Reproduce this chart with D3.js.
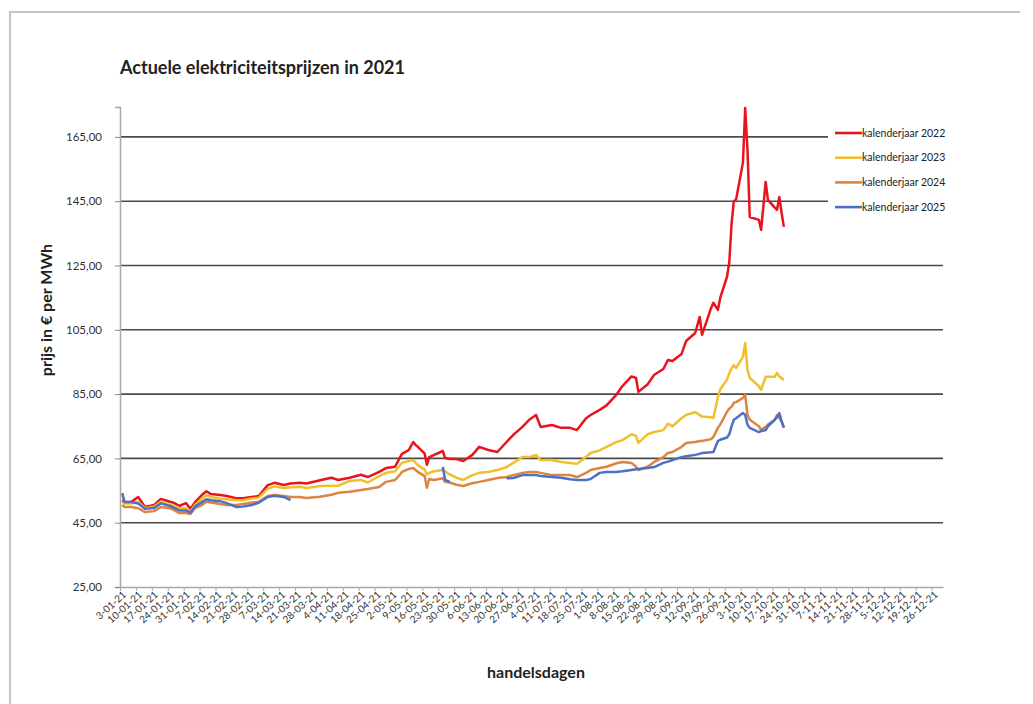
<!DOCTYPE html>
<html>
<head>
<meta charset="utf-8">
<script src="https://cdn.jsdelivr.net/npm/d3@7"></script>
<style>
  body { margin: 0; background: #fff; }
  svg text { font-family: Lato, "Open Sans", sans-serif; fill: #222; }
</style>
</head>
<body>
<script>
// handelsdagen en noteringen (EUR/MWh)
var dagen = ["04-01-21","05-01-21","08-01-21","11-01-21","14-01-21","18-01-21","21-01-21","25-01-21","27-01-21","29-01-21",
  "01-02-21","03-02-21","05-02-21","08-02-21","10-02-21","12-02-21","16-02-21","19-02-21","23-02-21","26-02-21",
  "02-03-21","05-03-21","09-03-21","12-03-21","16-03-21","19-03-21","23-03-21","26-03-21","01-04-21","06-04-21",
  "09-04-21","14-04-21","19-04-21","22-04-21","27-04-21","30-04-21","04-05-21","06-05-21","07-05-21","10-05-21",
  "12-05-21","13-05-21","14-05-21","17-05-21","18-05-21","19-05-21","21-05-21","25-05-21","26-05-21","28-05-21",
  "31-05-21","03-06-21","07-06-21","10-06-21","14-06-21","18-06-21","22-06-21","25-06-21","29-06-21","02-07-21",
  "05-07-21","07-07-21","12-07-21","16-07-21","20-07-21","23-07-21","27-07-21","29-07-21","02-08-21","05-08-21",
  "09-08-21","12-08-21","16-08-21","18-08-21","19-08-21","23-08-21","26-08-21","30-08-21","01-09-21","03-09-21",
  "07-09-21","09-09-21","13-09-21","15-09-21","16-09-21","20-09-21","21-09-21","23-09-21","24-09-21","27-09-21",
  "28-09-21","29-09-21","30-09-21","01-10-21","04-10-21","05-10-21","06-10-21","07-10-21","11-10-21","12-10-21",
  "14-10-21","15-10-21","18-10-21","19-10-21","20-10-21","21-10-21","22-10-21"];

var kal2022 = [52.0,51.4,51.5,53.0,49.9,50.5,52.4,51.5,51.1,50.2,
  51.1,49.3,51.4,53.6,54.8,53.9,53.6,53.3,52.6,52.6,
  53.0,53.3,56.7,57.4,56.7,57.2,57.4,57.2,58.2,59.0,
  58.3,59.0,59.9,59.2,60.8,62.0,62.4,65.1,66.4,67.6,
  70.1,69.2,68.6,66.5,63.0,65.4,66.0,67.3,65.1,64.8,
  64.8,64.2,66.1,68.6,67.6,67.0,70.1,72.3,74.8,77.0,
  78.5,74.8,75.4,74.5,74.5,73.8,77.5,78.5,80.1,81.5,
  84.5,87.5,90.5,90.0,85.7,88.0,91.0,92.8,95.6,95.3,
  97.5,101.5,104.0,109.0,103.4,111.8,113.4,111.2,114.9,121.5,
  126.0,138.0,145.0,145.5,157.0,174.0,161.0,140.1,139.2,136.1,
  151.0,145.4,143.0,142.3,146.3,141.4,137.0];

var kal2023 = [51.5,51.0,51.0,51.5,49.5,50.0,51.5,50.5,50.2,49.5,
  49.5,48.5,50.5,52.5,53.5,53.0,52.5,52.3,52.0,52.0,
  52.5,52.8,55.5,56.3,55.8,56.0,56.2,55.8,56.4,56.5,
  56.5,58.0,58.3,57.5,59.5,60.5,61.0,62.7,63.6,64.2,
  64.5,63.6,62.9,61.5,60.0,60.5,61.0,61.4,61.0,60.0,
  59.0,58.3,59.8,60.5,60.8,61.4,62.3,63.6,65.4,65.4,
  66.1,64.5,64.5,63.9,63.6,63.3,65.5,66.7,67.5,68.6,
  70.0,70.7,72.5,72.0,69.8,72.5,73.2,73.8,75.8,75.0,
  77.5,78.5,79.4,78.5,78.0,77.8,77.6,84.0,86.5,89.5,
  91.5,93.0,94.0,93.1,96.6,100.9,92.5,90.0,87.5,86.3,
  90.4,90.4,90.4,91.6,90.5,90.0,89.4];

var kal2024 = [50.5,49.9,49.9,49.5,48.3,48.6,49.9,49.5,48.8,48.0,
  48.0,47.7,49.5,50.5,51.5,51.3,50.8,50.5,50.5,50.8,
  51.3,51.5,53.3,53.6,53.3,53.0,53.0,52.7,53.1,53.7,
  54.3,54.6,55.2,55.5,56.1,57.7,58.3,59.8,60.8,61.7,
  62.0,61.4,60.8,59.5,55.9,58.6,58.3,58.8,57.7,57.5,
  56.8,56.4,57.3,57.7,58.3,58.9,59.2,59.8,60.5,60.8,
  60.8,60.5,59.8,59.8,59.8,59.2,60.5,61.4,62.0,62.4,
  63.4,63.9,63.6,62.4,61.4,62.4,63.9,65.4,66.7,67.0,
  68.6,69.8,70.1,70.4,70.4,71.0,71.7,74.5,75.5,79.5,
  80.5,81.0,82.3,82.5,83.8,84.8,78.5,77.0,75.0,73.9,
  74.8,75.5,77.0,78.5,77.5,76.5,74.8];

var kal2025 = [54.2,51.4,51.4,51.0,49.3,49.6,51.0,50.2,49.5,48.8,
  48.8,48.2,50.0,51.4,52.3,52.0,51.7,51.1,49.9,50.0,
  50.5,51.2,53.0,53.4,53.0,52.0,null,null,null,null,
  null,null,null,null,null,null,null,null,null,null,
  null,null,null,null,null,null,null,62.3,58.3,57.7,
  null,null,null,null,null,null,58.8,58.9,59.8,59.8,
  59.8,59.5,59.2,59.0,58.5,58.3,58.3,58.6,60.5,60.8,
  60.8,61.0,61.4,61.6,61.7,62.0,62.3,63.6,64.0,64.5,
  65.4,65.7,66.1,66.4,66.7,66.9,67.0,70.4,70.8,71.5,
  72.5,75.0,77.0,77.5,79.1,78.5,75.5,74.5,73.2,73.5,
  73.8,75.0,77.0,77.9,79.1,76.5,74.5];

var reeksen = ["kalenderjaar 2022","kalenderjaar 2023","kalenderjaar 2024","kalenderjaar 2025"];
var kleuren = ["#e8141c","#f0c02c","#dc8442","#4b70c6"];
var yTicks = [25,45,65,85,105,125,145,165];

var parse = d3.timeParse("%d-%m-%y");
var datums = dagen.map(parse);
var waarden = [kal2022, kal2023, kal2024, kal2025];

var svg = d3.select("body")
            .append("svg")
            .attr("width",1033)
            .attr("height",704)

// kader van de screenshot
svg.append("path")
   .attr("d","M10,704 L10,12 L1020,12")
   .attr("fill","none")
   .attr("stroke","#c4c4c4")
   .attr("stroke-width",2)

var x = d3.scaleTime()
          .domain([new Date(2021,0,3), new Date(2021,11,31)])
          .range([120,943])

var y = d3.scaleLinear()
          .domain([25,174.3])
          .range([587,107])

// horizontale rasterlijnen
svg.append("g")
   .selectAll("line")
   .data(yTicks.filter(function(d){ return d > 25; }))
   .join("line")
   .attr("x1",x.range()[0])
   .attr("x2",x.range()[1])
   .attr("y1",function(d){ return y(d); })
   .attr("y2",function(d){ return y(d); })
   .attr("stroke","#4a4a4a")
   .attr("stroke-width",1.6)

// y-as
var yAxis = svg.append("g")
   .attr("transform","translate(120,0)")
   .call(d3.axisLeft(y).tickValues(yTicks).tickSize(5).tickPadding(13)
          .tickFormat(function(d){ return d3.format(".2f")(d).replace(".",","); }))
yAxis.select(".domain").attr("stroke","#a8a8a8").attr("stroke-width",1.5)
yAxis.selectAll(".tick line").attr("stroke","#888")
yAxis.selectAll("text").style("font-size","11.5px").style("fill","#333")

// x-as met weeklabels
var weken = d3.timeSunday.range(new Date(2021,0,3), new Date(2022,0,1))
var xAxis = svg.append("g")
   .attr("transform","translate(0,587)")
   .call(d3.axisBottom(x).tickValues(weken).tickSize(4).tickSizeOuter(0)
          .tickFormat(d3.timeFormat("%-d-%m-%y")))
xAxis.select(".domain").attr("stroke","#a8a8a8").attr("stroke-width",1.5)
xAxis.selectAll(".tick line").attr("stroke","#aaa")
xAxis.selectAll("text")
     .style("font-size","10px")
     .style("fill","#333")
     .attr("text-anchor","end")
     .attr("transform","translate(4,6) rotate(-42)")
     .attr("dy","0.35em")
     .attr("y",0)

// lijnen
var lijn = d3.line()
             .defined(function(d){ return d[1] != null; })
             .x(function(d){ return x(d[0]); })
             .y(function(d){ return y(d[1]); })

waarden.forEach(function(reeks, i) {
   svg.append("path")
      .datum(datums.map(function(d, j){ return [d, reeks[j]]; }))
      .attr("fill","none")
      .attr("stroke",kleuren[i])
      .attr("stroke-width",2.5)
      .attr("stroke-linejoin","round")
      .attr("d",lijn)
})

// legenda
svg.append("rect")
   .attr("x",828).attr("y",118).attr("width",120).attr("height",104)
   .attr("fill","#fff")

var leg = svg.append("g")
   .selectAll("g")
   .data(reeksen)
   .join("g")
   .attr("transform",function(d,i){ return "translate(835," + (133 + i*24.7) + ")"; })
leg.append("line")
   .attr("x1",0).attr("x2",27)
   .attr("stroke",function(d,i){ return kleuren[i]; })
   .attr("stroke-width",2.6)
leg.append("text")
   .attr("x",27)
   .attr("dy","0.35em")
   .style("font-size","10.5px")
   .text(function(d){ return d; })

// titels
svg.append("text")
   .attr("x",120).attr("y",74)
   .style("font-size","18px").style("font-weight","bold")
   .text("Actuele elektriciteitsprijzen in 2021")

svg.append("text")
   .attr("transform","translate(52,310) rotate(-90)")
   .attr("text-anchor","middle")
   .style("font-size","16px").style("font-weight","bold")
   .text("prijs in € per MWh")

svg.append("text")
   .attr("x",536).attr("y",678)
   .attr("text-anchor","middle")
   .style("font-size","16px").style("font-weight","bold")
   .text("handelsdagen")
</script>
</body>
</html>
